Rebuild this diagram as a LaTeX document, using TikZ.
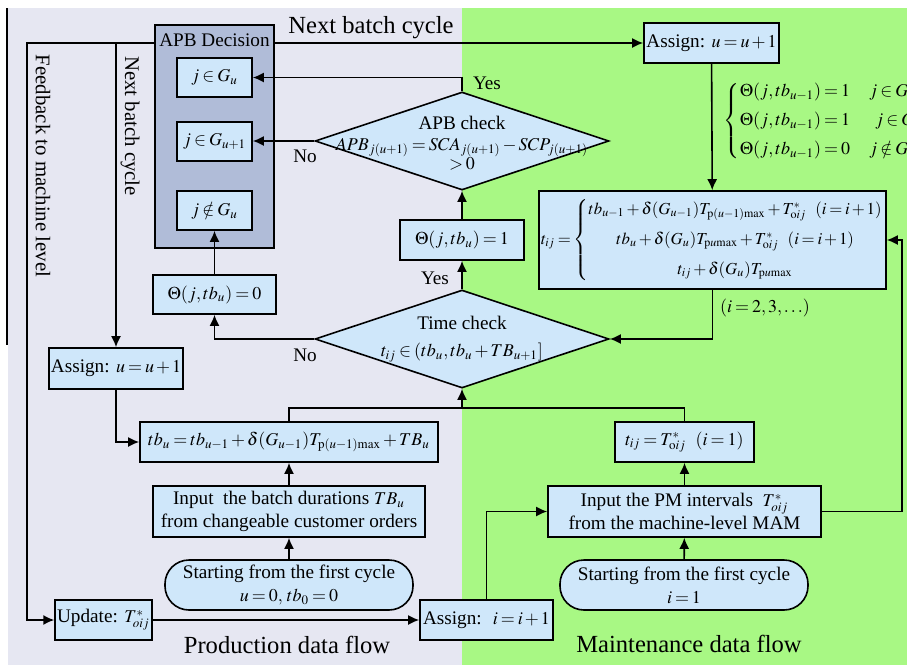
\documentclass[tikz,border=0pt]{standalone}
\usepackage{mathptmx}
\usepackage{fontspec}
\setmainfont{Liberation Serif}
\usetikzlibrary{arrows, arrows.meta, positioning, shapes.geometric}

\definecolor{bglav}{RGB}{230,231,242}
\definecolor{bggreen}{RGB}{168,248,132}
\definecolor{boxblue}{RGB}{207,231,250}
\definecolor{decgray}{RGB}{176,188,216}

% tighter math, as in the figure
\DeclareMathSizes{9.6}{9}{6.5}{5}
\DeclareMathSizes{9}{8.4}{6}{5}
\medmuskip=2mu plus 1mu
\thickmuskip=3mu plus 2mu

\begin{document}
\begin{tikzpicture}[
        x=0.5pt, y=-0.5pt, >={Latex[length=5.5pt,width=5pt]},
        line width=0.8pt,
        box/.style={draw, fill=boxblue, inner sep=1pt, align=center, font=\fontsize{9.6}{11.5}\selectfont},
        oval/.style={box, rounded corners=12pt},
        diam/.style={draw, fill=boxblue, diamond, inner sep=0pt, minimum width=147pt, minimum height=49pt},
        lbl/.style={inner sep=0pt, align=center, font=\fontsize{9.6}{11.5}\selectfont},
        biglbl/.style={inner sep=0pt, font=\fontsize{12.3}{14}\selectfont}
    ]
        \useasboundingbox (0,0) rectangle (907,665);
        \clip (0,0) rectangle (907,665);

        % backgrounds
        \fill[bglav] (8,8) rectangle (462,665);
        \fill[bggreen] (462,8) rectangle (907,665);
        \draw[line width=0.6pt] (7,8) -- (7,345);

        % APB decision block
        \node [draw, fill=decgray, minimum width=59.5pt, minimum height=111.5pt](apb) at (214.5,136.5) {};
        \node [lbl](apbtxt) at (214.5,40) {APB Decision};
        \node [box, minimum width=37.5pt, minimum height=19.5pt](g1) at (214.5,77.5) {$j\in G_u$};
        \node [box, minimum width=37.5pt, minimum height=19.5pt](g2) at (214.5,141.5) {$j\in G_{u+1}$};
        \node [box, minimum width=37.5pt, minimum height=19.5pt](g3) at (214.5,210.5) {$j\notin G_u$};
        \node [box, minimum width=61.5pt, minimum height=19.5pt](th0) at (214.5,294.5) {$\Theta(j,tb_u)=0$};

        % checks
        \node [diam](apbc) at (462,141) {};
        \node [lbl](apbctxt) at (462,143) {APB check\\[-1pt]
            $APB_{j(u+1)}=SCA_{j(u+1)}-SCP_{j(u+1)}$\\[-2pt] $>0$};
        \node [diam](tc) at (462,339) {};
        \node [lbl](tctxt) at (462,339) {Time check\\[2pt] $t_{ij}\in(tb_u,tb_u+TB_{u+1}]$};
        \node [box, minimum width=62pt, minimum height=20pt](th1) at (462,240) {$\Theta(j,tb_u)=1$};

        % maintenance side
        \node [box, minimum width=67.5pt, minimum height=20pt](au2) at (711.5,43) {Assign: $u=u+1$};
        \node [box, font=\fontsize{9}{11}\selectfont, minimum width=169.5pt, minimum height=49pt](tij) at (712.5,240) {$t_{ij}=\left\{\begin{array}{@{}c@{}}
            tb_{u-1}+\delta(G_{u-1})T_{\mathrm{p}(u-1)\mathrm{max}}+T^*_{\mathrm{o}ij}~~(i=i+1)\\[4pt]
            tb_u+\delta(G_u)T_{\mathrm{p}u\mathrm{max}}+T^*_{\mathrm{o}ij}~~(i=i+1)\\[4pt]
            t_{ij}+\delta(G_u)T_{\mathrm{p}u\mathrm{max}}
            \end{array}\right.$};
        \node [box, minimum width=69.5pt, minimum height=20pt](t1) at (684.5,442) {$t_{ij}=T^*_{\mathrm{o}ij}$~~$(i=1)$};
        \node [box, minimum width=136.5pt, minimum height=25.5pt](inpm) at (684.5,511.5) {Input the PM intervals~~$T^*_{oij}$\\from the machine-level MAM};
        \node [oval, minimum width=124pt, minimum height=25pt](st2) at (684,585) {Starting from the first cycle\\$i=1$};

        % production side
        \node [box, minimum width=67pt, minimum height=20.5pt](au1) at (116,368.5) {Assign: $u=u+1$};
        \node [box, minimum width=149pt, minimum height=20pt](tbu) at (289,442) {$tb_u=tb_{u-1}+\delta(G_{u-1})T_{\mathrm{p}(u-1)\mathrm{max}}+TB_u$};
        \node [box, minimum width=136pt, minimum height=25.5pt](inb) at (289,511.5) {Input\ \ the batch durations~$TB_u$\\from changeable customer orders};
        \node [oval, minimum width=124pt, minimum height=25pt](st1) at (289,585) {Starting from the first cycle\\$u=0,\,tb_0=0$};
        \node [box, minimum width=47.5pt, minimum height=20pt](upd) at (103.5,620) {Update: $T^*_{oij}$};
        \node [box, minimum width=66.5pt, minimum height=20pt](ai) at (486.5,620) {Assign:~ $i=i+1$};

        % labels
        \node [biglbl](nbc) at (371,28) {Next batch cycle};
        \node [lbl, font=\fontsize{10.4}{12}\selectfont, rotate=-90](nbcv) at (130,126) {Next batch cycle};
        \node [lbl, font=\fontsize{10.4}{12}\selectfont, rotate=-90](fb) at (43,166) {Feedback to machine level};
        \node [lbl](yes1) at (487,83) {Yes};
        \node [lbl](no1) at (305,156) {No};
        \node [lbl](yes2) at (435,278) {Yes};
        \node [lbl](no2) at (305,355) {No};
        \node [lbl](iset) at (765,308) {$(i=2,3,\ldots)$};
        \node [lbl, anchor=west](cases) at (723,121) {$\left\{\begin{array}{@{}l@{\quad}l@{}}
            \Theta(j,tb_{u-1})=1 & j\in G_{u-1}\\[3pt]
            \Theta(j,tb_{u-1})=1 & \;\; j\in G_u\\[3pt]
            \Theta(j,tb_{u-1})=0 & j\notin G_{u-1}
            \end{array}\right.$};
        \node [biglbl](pdf) at (287,645) {Production data flow};
        \node [biglbl](mdf) at (689,644) {Maintenance data flow};

        % connectors
        \coordinate (fbtop) at (27,43);
        \coordinate (nbtop) at (116,43);
        \coordinate (mrg) at (462,408);
        \coordinate (rgt) at (902,240);
        \draw[->] (apb.east |- au2) -- (au2);
        \draw[->] (apb.west |- au2) -- (fbtop) |- (upd);
        \draw[->] (nbtop) -- (au1);
        \draw[->] (au2) -- (tij);
        \draw[->] (tij.south) |- (tc.east);
        \draw[->] (tc.north) -- (th1);
        \draw[->] (th1) -- (apbc.south);
        \draw[->] (apbc.north) |- (g1.east);
        \draw[->] (apbc.west) -- (apbc.west -| g2.east);
        \draw[->] (tc.west) -| (th0.south);
        \draw[->] (th0) -- (g3);
        \draw[->] (au1) |- (tbu.west);
        \draw (tbu.north) |- (mrg);
        \draw (t1.north) |- (mrg);
        \draw[->] (mrg) -- (tc.south);
        \draw[->] (inb) -- (tbu);
        \draw[->] (st1) -- (inb);
        \draw[->] (upd) -- (ai);
        \draw[->] (ai.north) |- (inpm.west);
        \draw[->] (inpm) -- (t1);
        \draw[->] (st2) -- (inpm);
        \draw[->] (inpm.east) -| (rgt) -- (tij.east);
    \end{tikzpicture}
\end{document}
